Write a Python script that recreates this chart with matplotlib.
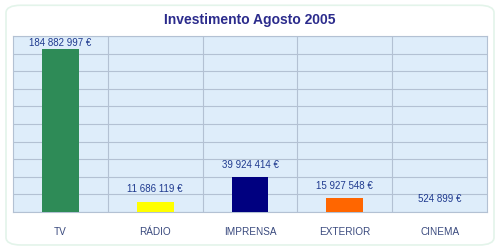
import matplotlib
matplotlib.use("Agg")
import matplotlib.pyplot as plt
from matplotlib.patches import FancyBboxPatch

# dados do gráfico
categorias = ['TV', 'RÁDIO', 'IMPRENSA', 'EXTERIOR', 'CINEMA']
investimento = [184882997, 11686119, 39924414, 15927548, 524899]
cores = ['#2E8B57', '#FFFF00', '#000080', '#FF6600', '#9999CC']
titulo = 'Investimento Agosto 2005'

plt.rcParams['font.family'] = ['Liberation Sans', 'DejaVu Sans']
valor_cor = '#1F3A8F'
eixo_cor = '#3A4A7E'
grelha_cor = '#B3C1D3'

fig = plt.figure(figsize=(5, 2.51), dpi=100)
fig.patch.set_facecolor('white')

# moldura arredondada (por trás dos eixos)
moldura = FancyBboxPatch((0.012, 0.02), 0.976, 0.955,
                         boxstyle='round,pad=0,rounding_size=0.03',
                         transform=fig.transFigure, facecolor='white',
                         edgecolor='#E3F4EA', linewidth=1.2, zorder=-1)
fig.patches.append(moldura)

ax = fig.add_axes([0.026, 0.1514, 0.948, 0.7012])
ax.set_facecolor('#DEEDFA')

x = range(len(categorias))
barras = ax.bar(x, investimento, width=0.39, color=cores, zorder=3)

ymax = 200000000
ax.set_ylim(0, ymax)
ax.set_xlim(-0.5, len(categorias) - 0.5)
ax.set_yticks(range(0, ymax + 1, 20000000))
ax.set_yticklabels([])
ax.set_xticks([i + 0.5 for i in range(len(categorias) - 1)], minor=True)
ax.set_xticks(list(x))
ax.set_xticklabels(categorias, fontsize=7.2, color=eixo_cor)
ax.tick_params(axis='both', which='both', length=0)
ax.tick_params(axis='x', pad=10)
ax.grid(axis='y', which='major', color=grelha_cor, linewidth=0.8, zorder=1)
ax.grid(axis='x', which='minor', color=grelha_cor, linewidth=0.8, zorder=1)
for s in ax.spines.values():
    s.set_color(grelha_cor)
    s.set_linewidth(0.8)

for b, v in zip(barras, investimento):
    rotulo = f'{v:,}'.replace(',', ' ') + ' €'
    off = 6 if v < 0.9 * ymax else 2
    ax.annotate(rotulo, (b.get_x() + b.get_width() / 2, v),
                xytext=(0, off), textcoords='offset points',
                ha='center', va='bottom', fontsize=7, color=valor_cor,
                zorder=4)

fig.text(0.5, 0.92, titulo, ha='center', va='center', fontsize=10,
         fontweight='bold', color='#2B2B8C')

fig.savefig('out.png', dpi=100)
